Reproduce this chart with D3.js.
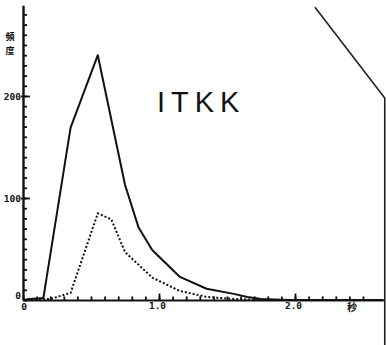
<!DOCTYPE html>
<html>
<head>
<meta charset="utf-8">
<script src="https://cdn.jsdelivr.net/npm/d3@7"></script>
<style>
  body { margin: 0; background: #fff; }
  svg { display: block; }
  .lbl { font-family: "DejaVu Sans Mono", monospace; font-weight: bold; font-size: 9.5px; fill: #111; }
</style>
</head>
<body>
<div id="chart"></div>
<script>
// time in seconds (x) and frequency (y)
var solidX = [0, 0.05, 0.15, 0.35, 0.55, 0.75, 0.85, 0.95, 1.15, 1.35, 1.55, 1.65, 1.75, 1.95, 2.65];
var solidY = [0, 1, 2, 169, 240, 113, 71, 49, 23, 11, 6, 3, 1, 0, 0];

var dottedX = [0, 0.2, 0.35, 0.55, 0.65, 0.75, 0.95, 1.15, 1.35, 1.55, 1.75];
var dottedY = [0, 1, 7, 85, 79, 47, 22, 9, 3, 1, 0];

var yTickLabels = [0, 100, 200];
var xTickLabels = [0, 1.0, 2.0];
var yMinorTicks = d3.range(0, 290, 10);
var xMinorTicks = d3.range(0, 26).map(function (i) { return i / 10; });

// stray line at the top right of the scan (in data units)
var edgeX = [2.147, 2.66, 2.66];
var edgeY = [287, 198, -50];

var width = 386, height = 345;

var svg = d3.select("#chart")
    .append("svg")
    .attr("width", width)
    .attr("height", height);

var x = d3.scaleLinear().domain([0, 2.65]).range([23, 383.4]);
var y = d3.scaleLinear().domain([0, 289]).range([300, 5.2]);

// y axis: small ticks pointing right
var yMinor = svg.append("g")
    .attr("transform", "translate(" + x(0) + ",0)")
    .call(d3.axisRight(y).tickValues(yMinorTicks).tickSize(4).tickFormat("").tickSizeOuter(0));
yMinor.select(".domain").attr("stroke", "#111").attr("stroke-width", 2.4);
yMinor.selectAll(".tick line").attr("stroke", "#111").attr("stroke-width", 1.8);

// y axis major ticks and labels
var yMajor = svg.append("g")
    .attr("transform", "translate(" + x(0) + ",0)")
    .call(d3.axisLeft(y).tickValues([100, 200]).tickSize(2).tickPadding(1).tickSizeOuter(0));
yMajor.select(".domain").remove();
yMajor.selectAll(".tick line").attr("stroke", "#111").attr("stroke-width", 1.8).attr("x2", 7).attr("x1", -2);
yMajor.selectAll(".tick text").attr("class", "lbl").attr("x", -2).attr("dy", "0.35em");

svg.append("text")
    .attr("class", "lbl")
    .attr("x", x(0) - 2)
    .attr("y", y(0) - 4)
    .attr("text-anchor", "end")
    .attr("dy", "0.35em")
    .text(yTickLabels[0]);

// x axis: small ticks pointing up
var xMinor = svg.append("g")
    .attr("transform", "translate(0," + y(0) + ")")
    .call(d3.axisTop(x).tickValues(xMinorTicks).tickSize(3.6).tickFormat("").tickSizeOuter(0));
xMinor.select(".domain").attr("stroke", "#111").attr("stroke-width", 2);
xMinor.selectAll(".tick line").attr("stroke", "#111").attr("stroke-width", 1.8);

var xMajor = svg.append("g")
    .attr("transform", "translate(0," + y(0) + ")")
    .call(d3.axisTop(x).tickValues([1.0, 2.0]).tickSize(6.5).tickFormat("").tickSizeOuter(0));
xMajor.select(".domain").remove();
xMajor.selectAll(".tick line").attr("stroke", "#111").attr("stroke-width", 1.8);

svg.selectAll(".xlab")
    .data(xTickLabels)
    .enter().append("text")
    .attr("class", "lbl")
    .attr("x", function (d) { return x(d) - (d == 0 ? -1 : 1.5); })
    .attr("y", function (d) { return y(0) + (d == 0 ? 10 : 9); })
    .attr("text-anchor", "middle")
    .text(function (d) { return d == 0 ? "0" : d.toFixed(1); });

// unit labels
svg.append("text")
    .attr("x", x(2.42))
    .attr("y", y(0) + 11)
    .attr("text-anchor", "middle")
    .attr("font-family", "Noto Sans CJK JP")
    .attr("font-weight", "bold")
    .attr("font-size", "10px")
    .attr("fill", "#111")
    .text("秒");

svg.append("text")
    .attr("x", 10)
    .attr("y", 40)
    .attr("text-anchor", "middle")
    .attr("font-family", "Noto Sans CJK JP")
    .attr("font-weight", "bold")
    .attr("font-size", "9px")
    .attr("fill", "#111")
    .text("頻");
svg.append("text")
    .attr("x", 10)
    .attr("y", 54)
    .attr("text-anchor", "middle")
    .attr("font-family", "Noto Sans CJK JP")
    .attr("font-weight", "bold")
    .attr("font-size", "9px")
    .attr("fill", "#111")
    .text("度");

// handwritten note
svg.append("text")
    .attr("x", 157)
    .attr("y", 112)
    .attr("font-family", "Liberation Sans, sans-serif")
    .attr("font-size", "29px")
    .attr("letter-spacing", "6px")
    .attr("fill", "#111")
    .text("ITKK");

var line = d3.line()
    .x(function (d) { return x(d[0]); })
    .y(function (d) { return y(d[1]); });

svg.append("path")
    .datum(d3.zip(solidX, solidY))
    .attr("d", line)
    .attr("fill", "none")
    .attr("stroke", "#111")
    .attr("stroke-width", 2)
    .attr("stroke-linejoin", "round");

svg.append("path")
    .datum(d3.zip(dottedX, dottedY))
    .attr("d", line)
    .attr("fill", "none")
    .attr("stroke", "#111")
    .attr("stroke-width", 2)
    .attr("stroke-dasharray", "2,2");

svg.append("path")
    .datum(d3.zip(edgeX, edgeY))
    .attr("d", line)
    .attr("fill", "none")
    .attr("stroke", "#222")
    .attr("stroke-width", 1.6);
</script>
</body>
</html>
